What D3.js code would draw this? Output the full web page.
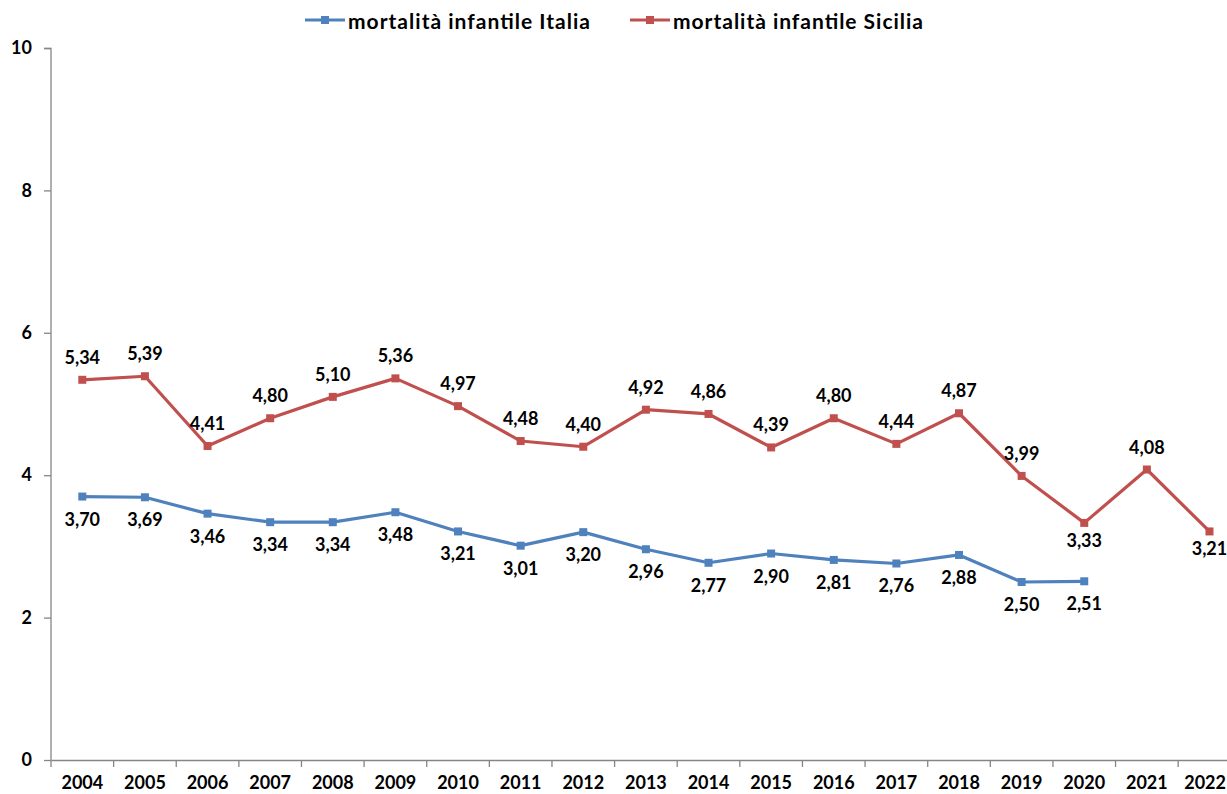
<!DOCTYPE html>
<html>
<head>
<meta charset="utf-8">
<script src="https://cdn.jsdelivr.net/npm/d3@7/dist/d3.min.js"></script>
<style>
  html, body { margin: 0; padding: 0; background: #fff; overflow: hidden; }
  svg { display: block; }
  text { font-family: Lato, "Open Sans", sans-serif; font-weight: 700; fill: #000; }
</style>
</head>
<body>
<svg id="chart" width="1227" height="794"></svg>
<script>
const years = ["2004","2005","2006","2007","2008","2009","2010","2011","2012","2013","2014","2015","2016","2017","2018","2019","2020","2021","2022"];
const italia = [3.70,3.69,3.46,3.34,3.34,3.48,3.21,3.01,3.20,2.96,2.77,2.90,2.81,2.76,2.88,2.50,2.51];
const sicilia = [5.34,5.39,4.41,4.80,5.10,5.36,4.97,4.48,4.40,4.92,4.86,4.39,4.80,4.44,4.87,3.99,3.33,4.08,3.21];
const yTicks = [0,2,4,6,8,10];
const seriesNames = ["mortalità infantile Italia","mortalità infantile Sicilia"];

const colors = ["#4F81BD", "#C0504D"];
const axisColor = "#868686";
const W = 1227;

const svg = d3.select("#chart");
const x = d3.scaleBand().domain(years).range([51, 1240.8]).paddingInner(0).paddingOuter(0);
const y = d3.scaleLinear().domain([0, 10]).range([760, 48]);
const fmt = v => d3.format(".2f")(v).replace(".", ",");

// Y axis
const yAxis = svg.append("g").attr("transform", "translate(51,0)")
  .call(d3.axisLeft(y).tickValues(yTicks).tickSize(7).tickPadding(12).tickFormat(d3.format("d")));
yAxis.select(".domain").attr("stroke", axisColor).attr("stroke-width", 1.3).attr("d", "M-7,48.5H0V760");
yAxis.selectAll(".tick line").attr("stroke", axisColor).attr("stroke-width", 1.3);
yAxis.selectAll(".tick text").style("font-size", "18px").attr("font-family", null).attr("fill", "#000");

// X axis
const xAxis = svg.append("g").attr("transform", "translate(0,760)")
  .call(d3.axisBottom(x).tickSize(0).tickPadding(16));
xAxis.select(".domain").attr("stroke", axisColor).attr("stroke-width", 1.3);
xAxis.selectAll(".tick text").style("font-size", "18px").attr("font-family", null).attr("fill", "#000");
// keep the last year label inside the picture
xAxis.selectAll(".tick text").each(function(d) {
  const c = x(d) + x.bandwidth() / 2;
  const w = this.getComputedTextLength();
  if (c + w / 2 > W - 1) {
    d3.select(this).attr("text-anchor", "end").attr("x", (W - 1) - c);
  }
});
// tick marks at band boundaries
xAxis.selectAll(".bt").data(years).enter().append("line")
  .attr("class", "bt")
  .attr("x1", d => x(d)).attr("x2", d => x(d))
  .attr("y1", 0).attr("y2", 7)
  .attr("stroke", axisColor).attr("stroke-width", 1.3);

const cx = (d, i) => x(years[i]) + x.bandwidth() / 2;
const line = d3.line().x((d, i) => cx(d, i)).y(d => y(d));

function drawSeries(data, color, labelDy) {
  const g = svg.append("g");
  g.append("path").datum(data)
    .attr("fill", "none").attr("stroke", color).attr("stroke-width", 3.2)
    .attr("stroke-linejoin", "round").attr("d", line);
  g.selectAll("rect").data(data).enter().append("rect")
    .attr("x", (d, i) => cx(d, i) - 4).attr("y", d => y(d) - 4)
    .attr("width", 8).attr("height", 8).attr("fill", color);
  g.selectAll("text").data(data).enter().append("text")
    .attr("x", (d, i) => cx(d, i))
    .attr("y", (d, i) => y(d) + labelDy(i))
    .attr("text-anchor", "middle").attr("dominant-baseline", "central")
    .style("font-size", "18px")
    .text(d => fmt(d));
}

drawSeries(italia, colors[0], i => 22);
drawSeries(sicilia, colors[1], i => (i === 16 || i === 18) ? 17 : -23);

// Legend
const legend = svg.append("g");
const legendItems = [{name: seriesNames[0], x: 305, w: 242}, {name: seriesNames[1], x: 630, w: 250}];
legendItems.forEach((it, k) => {
  const g = legend.append("g").attr("transform", `translate(${it.x},20)`);
  g.append("line").attr("x1", 0).attr("x2", 40).attr("y1", 0).attr("y2", 0)
    .attr("stroke", colors[k]).attr("stroke-width", 3.2);
  g.append("rect").attr("x", 16).attr("y", -4).attr("width", 8).attr("height", 8).attr("fill", colors[k]);
  g.append("text").attr("x", 43).attr("y", 0).attr("dominant-baseline", "central")
    .attr("textLength", it.w).attr("lengthAdjust", "spacing")
    .style("font-size", "21px").text(it.name);
});
</script>
</body>
</html>
